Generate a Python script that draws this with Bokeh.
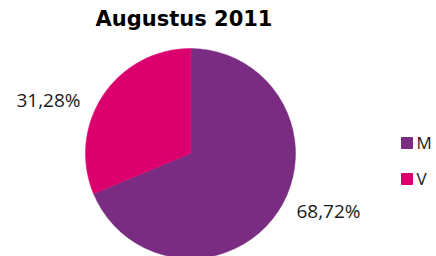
import math
from bokeh.plotting import figure
from bokeh.models import Range1d, ColumnDataSource
from bokeh.core.properties import value
from bokeh.embed import file_html
from bokeh.resources import INLINE

# ---- data ----
title_text = "Augustus 2011"
categories = ["M", "V"]
shares = [68.72, 31.28]
colors = ["#7A2C82", "#DC006E"]

# ---- layout (pixels in the picture) ----
W, H = 436, 256
def sy(y):  # picture y (top-down) -> data y (bottom-up)
    return H - y

TEXT_DY = -8  # text baseline correction
cx, cy, r = 190, 153, 105
label_offsets = [(138, 65), (-142, -46)]  # baseline offsets from centre, per slice
legend_x, legend_y0, legend_step = 406.5, 142.5, 36

p = figure(width=W, height=H, output_backend="svg", toolbar_location=None,
           x_range=Range1d(0, W), y_range=Range1d(0, H),
           x_axis_location=None, y_axis_location=None, min_border=0)
p.grid.visible = False
p.outline_line_color = None
p.background_fill_color = "white"
p.border_fill_color = "white"

# wedges: first slice starts at 12 o'clock, clockwise
starts, ends = [], []
cum = 0.0
for s in shares:
    end = math.radians(90 - cum * 3.6)
    start = math.radians(90 - (cum + s) * 3.6)
    starts.append(start)
    ends.append(end)
    cum += s

src = ColumnDataSource(dict(x=[cx] * len(shares), y=[sy(cy)] * len(shares),
                            start=starts, end=ends, color=colors))
p.wedge(x="x", y="y", radius=r, start_angle="start", end_angle="end",
        direction="anticlock", fill_color="color", line_color="color",
        line_width=0.5, source=src)

# percentage labels
lab = ColumnDataSource(dict(
    x=[cx + dx for dx, dy in label_offsets],
    y=[sy(cy + dy + TEXT_DY) for dx, dy in label_offsets],
    t=[f"{s:.2f}%".replace(".", ",") for s in shares]))
p.text(x="x", y="y", text="t", source=lab, text_align="center",
       text_baseline="alphabetic", text_font=value("Open Sans"),
       text_font_size="19px", text_color="#1a1a1a")

# title
p.text(x=[183.5], y=[sy(26.5 + TEXT_DY)], text=[title_text], text_align="center",
       text_baseline="alphabetic", text_font=value("DejaVu Sans"),
       text_font_style="bold", text_font_size="21px", text_color="black")

# legend
leg = ColumnDataSource(dict(
    x=[legend_x] * len(categories),
    y=[sy(legend_y0 + i * legend_step) for i in range(len(categories))],
    tx=[legend_x + 9.5] * len(categories),
    ty=[sy(legend_y0 + i * legend_step + 7.5 + TEXT_DY) for i in range(len(categories))],
    t=categories, color=colors))
p.rect(x="x", y="y", width=11, height=11, fill_color="color", line_color="color",
       source=leg)
p.text(x="tx", y="ty", text="t", source=leg, text_align="left",
       text_baseline="alphabetic", text_font=value("Open Sans"),
       text_font_size="17px", text_color="#1a1a1a")

open("out.html", "w").write(file_html(p, INLINE))
